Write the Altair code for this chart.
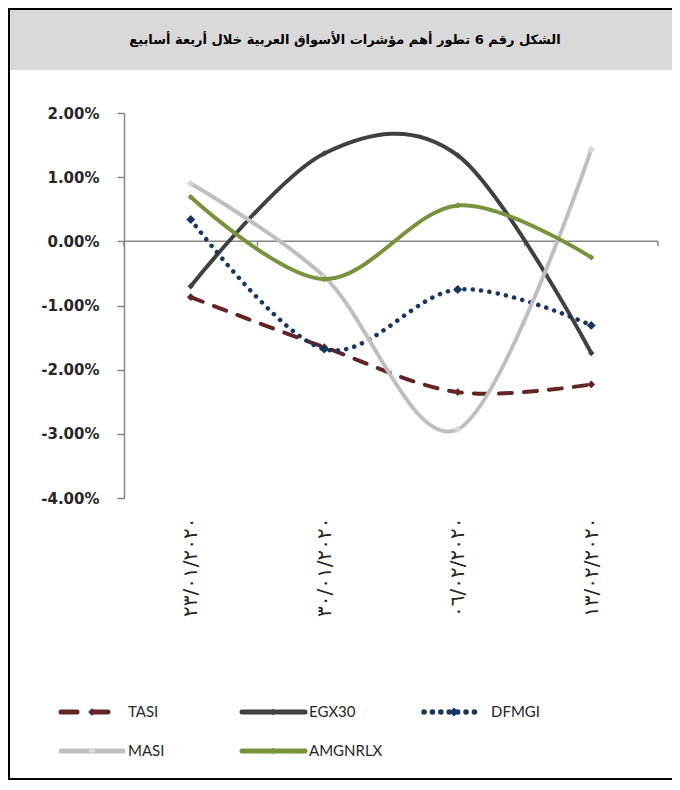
import altair as alt
import pandas as pd

# ---------------- data ----------------
dates = ["٢٣/٠١/٢٠٢٠", "٣٠/٠١/٢٠٢٠", "٠٦/٠٢/٢٠٢٠", "١٣/٠٢/٢٠٢٠"]
series_names = ["TASI", "EGX30", "DFMGI", "MASI", "AMGNRLX"]
tasi = [-0.87, -1.65, -2.35, -2.23]
egx30 = [-0.70, 1.37, 1.34, -1.74]
dfmgi = [0.34, -1.68, -0.75, -1.31]
masi = [0.90, -0.55, -2.93, 1.43]
amgnrlx = [0.69, -0.59, 0.56, -0.25]
y_ticks = [2, 1, 0, -1, -2, -3, -4]
title_text = "الشكل رقم 6 تطور أهم مؤشرات الأسواق العربية خلال أربعة أسابيع"

values_by_series = [tasi, egx30, dfmgi, masi, amgnrlx]
rows = []
for name, vals in zip(series_names, values_by_series):
    for i, (d, v) in enumerate(zip(dates, vals)):
        rows.append({"date": d, "idx": i, "series": name, "value": v})
df = pd.DataFrame(rows)
cat_df = pd.DataFrame({"date": dates, "idx": list(range(len(dates)))})
one = pd.DataFrame({"k": [0]})

# ---------------- layout / style ----------------
W, H = 534, 385
PAD_L, PAD_T = 116, 105
TOTAL_W, TOTAL_H = 664, 772
AXIS_GREY = "#868686"
TXT = "#262626"

styles = {
    "TASI": dict(color="#632523", width=4, dash=[13, 12], mcolor="#632523", msize=60),
    "EGX30": dict(color="#404040", width=4, dash=None, mcolor="#404040", msize=40),
    "DFMGI": dict(color="#17375E", width=4.5, dash=[0.1, 8.3], mcolor="#17375E", msize=80),
    "MASI": dict(color="#BFBFBF", width=4, dash=None, mcolor="#D9D9D9", msize=60),
    "AMGNRLX": dict(color="#77933C", width=4, dash=None, mcolor="#77933C", msize=40),
}
# legend layout, relative to plot origin: (line x1, line x2, marker x, text x, y)
legend_pos = {
    "TASI": (-63, -9, -32, 4, 599),
    "EGX30": (118, 181, 149, 185, 599),
    "DFMGI": (300, 354, 330, 367, 599),
    "MASI": (-63, -1, -32, 4, 638),
    "AMGNRLX": (118, 181, 149, 185, 638),
}

x_enc = alt.X(
    "date:N",
    sort=dates,
    scale=alt.Scale(type="point", padding=0.5),
    axis=alt.Axis(
        title=None, domain=False, ticks=False, labelAngle=270, labelPadding=19,
        labelFont="DejaVu Sans", labelFontSize=20, labelColor=TXT,
    ),
)
y_enc = alt.Y(
    "value:Q",
    scale=alt.Scale(domain=[-4, 2], nice=False, zero=False),
    axis=alt.Axis(
        title=None, values=y_ticks, grid=False,
        domainColor=AXIS_GREY, domainWidth=1.5,
        tickColor=AXIS_GREY, tickWidth=1.5, tickSize=7,
        labelPadding=18,
        labelExpr="(datum.value < 0 ? '-' : '') + format(abs(datum.value), '.2f') + '%'",
        labelFont="DejaVu Sans", labelFontWeight="bold", labelFontSize=15, labelColor=TXT,
    ),
)

layers = []

# title band
layers.append(
    alt.Chart(one).mark_rect(color="#D9D9D9").encode(
        x=alt.value(-PAD_L), x2=alt.value(TOTAL_W), y=alt.value(-PAD_T), y2=alt.value(-43)
    )
)
layers.append(
    alt.Chart(one).mark_text(
        text=title_text, font="DejaVu Sans", fontWeight="bold", fontSize=13,
        color="#000000", align="center", baseline="middle",
    ).encode(x=alt.value(221), y=alt.value(-73))
)

# zero line and its ticks
layers.append(
    alt.Chart(one).mark_rule(color=AXIS_GREY, strokeWidth=1.5).encode(
        x=alt.value(0), x2=alt.value(W), y=alt.datum(0)
    )
)
layers.append(
    alt.Chart(cat_df).mark_rule(color=AXIS_GREY, strokeWidth=1.5, xOffset=-W / 8, y2Offset=5).encode(
        x=x_enc, y=alt.datum(0), y2=alt.datum(0)
    )
)
layers.append(
    alt.Chart(cat_df.tail(1)).mark_rule(color=AXIS_GREY, strokeWidth=1.5, xOffset=W / 8, y2Offset=5).encode(
        x=x_enc, y=alt.datum(0), y2=alt.datum(0)
    )
)

# series lines and markers
for name in series_names:
    st = styles[name]
    sub = df[df.series == name]
    line_kw = dict(
        interpolate="cardinal", tension=0, color=st["color"], strokeWidth=st["width"],
        strokeCap="round", strokeJoin="round",
    )
    if st["dash"]:
        line_kw["strokeDash"] = st["dash"]
    layers.append(
        alt.Chart(sub).mark_line(**line_kw).encode(x=x_enc, y=y_enc, order=alt.Order("idx:Q"))
    )
    layers.append(
        alt.Chart(sub).mark_point(
            shape="diamond", filled=True, color=st["mcolor"], size=st["msize"], opacity=1
        ).encode(x=x_enc, y=y_enc)
    )

# legend
for name in series_names:
    st = styles[name]
    lx1, lx2, mx, tx, ly = legend_pos[name]
    rule_kw = dict(color=st["color"], strokeWidth=st["width"] + 1, strokeCap="round")
    if st["dash"]:
        rule_kw["strokeDash"] = st["dash"] if name != "TASI" else [16, 15]
    layers.append(
        alt.Chart(one).mark_rule(**rule_kw).encode(
            x=alt.value(lx1), x2=alt.value(lx2), y=alt.value(ly)
        )
    )
    layers.append(
        alt.Chart(one).mark_point(
            shape="diamond", filled=True, color=st["mcolor"], size=st["msize"], opacity=1
        ).encode(x=alt.value(mx), y=alt.value(ly))
    )
    layers.append(
        alt.Chart(one).mark_text(
            text=name, font="Lato", fontSize=15, color=TXT, align="left", baseline="middle"
        ).encode(x=alt.value(tx), y=alt.value(ly))
    )

# frame: left, top and bottom edges (right edge lies outside the picture)
fx0 = -PAD_L + 1
fy0 = -PAD_T + 1
fy1 = TOTAL_H - PAD_T - 1
fx1 = TOTAL_W - PAD_L
for enc in (
    dict(x=alt.value(fx0), y=alt.value(fy0 - 1), y2=alt.value(fy1 + 1)),
    dict(x=alt.value(fx0 - 1), x2=alt.value(fx1), y=alt.value(fy0)),
    dict(x=alt.value(fx0 - 1), x2=alt.value(fx1), y=alt.value(fy1)),
):
    layers.append(alt.Chart(one).mark_rule(color="#000000", strokeWidth=2).encode(**enc))

chart = alt.layer(*layers).properties(
    width=W,
    height=H,
    autosize=alt.AutoSizeParams(type="none"),
    padding={"left": PAD_L, "top": PAD_T, "right": TOTAL_W - PAD_L - W, "bottom": TOTAL_H - PAD_T - H},
    background="white",
).configure_view(stroke=None)

chart.save("out.html", embed_options={"renderer": "svg", "actions": False})
